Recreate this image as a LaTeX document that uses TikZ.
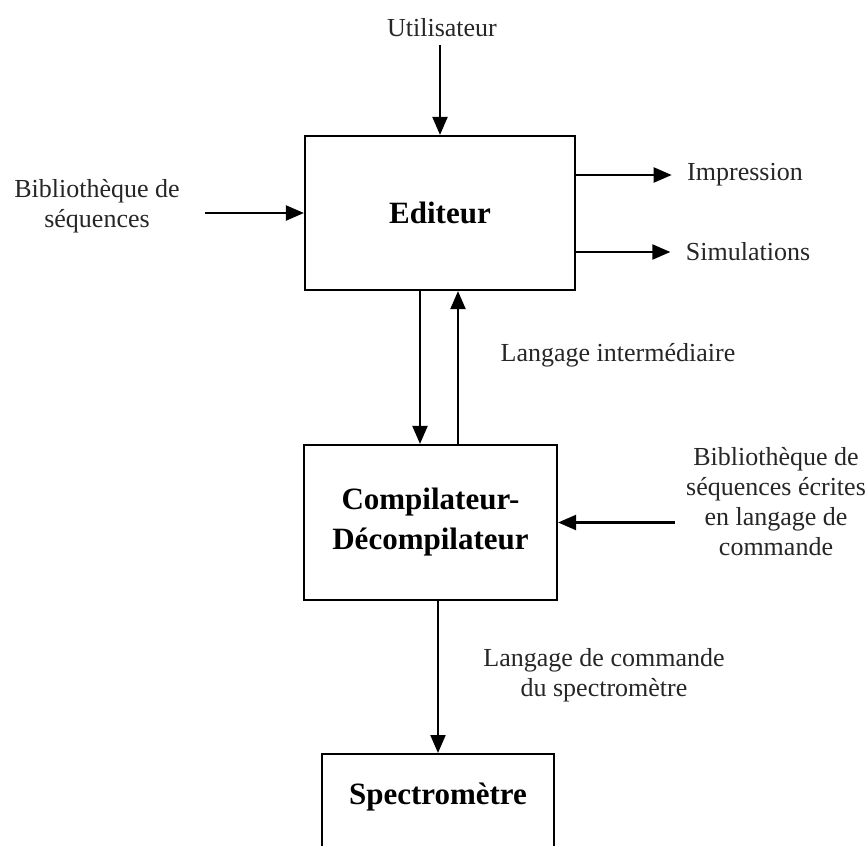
\documentclass[tikz,border=0pt]{standalone}
\usepackage{fontspec}
\setmainfont{Liberation Serif}
\usetikzlibrary{arrows.meta}

\begin{document}
\begin{tikzpicture}[x=1pt,y=-1pt,
box/.style={draw,line width=2.2pt,inner sep=0pt,font=\fontsize{31}{40}\selectfont\bfseries,align=center},
note/.style={font=\fontsize{26}{30}\selectfont,align=center,text=black!85},
arr/.style={line width=2.2pt,-{Triangle[length=18pt,width=15pt]}}]

\useasboundingbox (0,0) rectangle (868,846);
\clip (0,0) rectangle (868,846);

\node (edit) at (440,213) [box,minimum width=270pt,minimum height=154pt] {Editeur};
\node (comp) at (430.5,522.5) [box,minimum width=253pt,minimum height=155pt] {Compilateur-\\D\'ecompilateur};
\node (spec) at (438,753) [box,anchor=north,minimum width=232pt,minimum height=140pt] {};
\node (spectxt) at (438,797) [box,draw=none] {Spectrom\`etre};

\node (user) at (442,28) [note] {Utilisateur};
\node (lib1) at (97,206) [note] {Biblioth\`eque de\\s\'equences};
\node (impr) at (745,175) [note] {Impression};
\node (simu) at (748,252) [note] {Simulations};
\node (inter) at (618,355) [note] {Langage interm\'ediaire};
\node (lib2) at (776,502) [note] {Biblioth\`eque de\\s\'equences \'ecrites\\en langage de\\commande};
\node (cmd) at (604,675) [note] {Langage de commande\\du spectrom\`etre};

\draw [arr,shorten <=4pt] (user.south -| edit.north) -- (edit.north);
\draw [arr,shorten <=22pt] (lib1.east |- edit.west) -- (edit.west);
\draw [arr,shorten >=12pt] (edit.east |- impr.west) -- (impr.west);
\draw [arr,shorten >=12pt] (edit.east |- simu.west) -- (simu.west);

\draw [arr] ([xshift=-20pt]edit.south) -- ([xshift=-10.5pt]comp.north);
\draw [arr] ([xshift=27.5pt]comp.north) -- ([xshift=18pt]edit.south);
\draw [arr,shorten <=8pt] (lib2.west |- comp.east) -- (comp.east);
\draw [arr] ([xshift=7.5pt]comp.south) -- (spec.north);

\end{tikzpicture}
\end{document}
